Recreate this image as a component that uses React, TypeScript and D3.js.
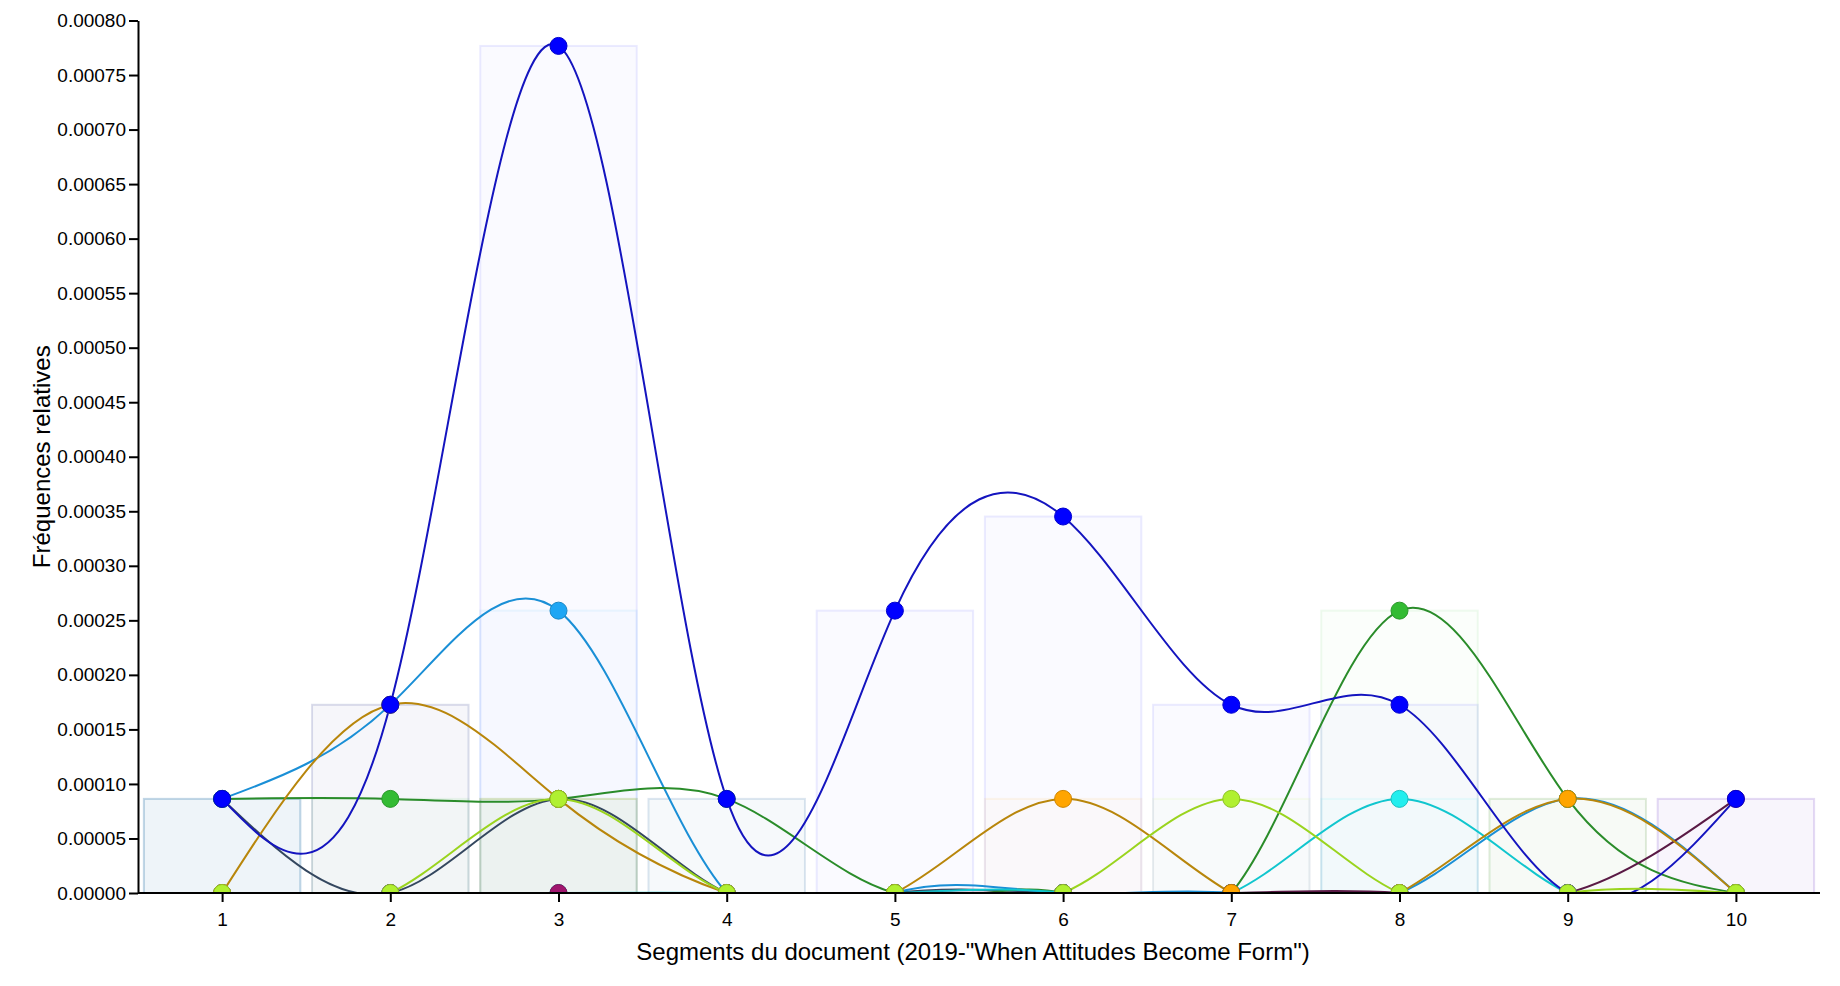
import React, { useEffect, useRef } from "react";
import * as d3 from "d3";

// segments of the document on the x axis
const segments = [1, 2, 3, 4, 5, 6, 7, 8, 9, 10];

// relative frequencies per term, one array per series
const darkslateValues = [0.0000863, 0, 0.0000863, 0, 0, 0, 0, 0, 0, 0];
const skyValues = [0.0000863, 0.0001726, 0.0002589, 0, 0, 0, 0, 0, 0.0000863, 0];
const greenValues = [0.0000863, 0.0000863, 0.0000863, 0.0000863, 0, 0, 0, 0.0002589, 0.0000863, 0];
const cyanValues = [0, 0, 0, 0, 0, 0, 0, 0.0000863, 0, 0];
const maroonValues = [0, 0, 0, 0, 0, 0, 0, 0, 0, 0.0000863];
const orangeValues = [0, 0.0001726, 0.0000863, 0, 0, 0.0000863, 0, 0, 0.0000863, 0];
const blueValues = [0.0000863, 0.0001726, 0.0007767, 0.0000863, 0.0002589, 0.0003452, 0.0001726, 0.0001726, 0, 0.0000863];
const limeValues = [0, 0, 0.0000863, 0, 0, 0, 0.0000863, 0, 0, 0];

const yTicks = [
  0, 0.00005, 0.0001, 0.00015, 0.0002, 0.00025, 0.0003, 0.00035, 0.0004,
  0.00045, 0.0005, 0.00055, 0.0006, 0.00065, 0.0007, 0.00075, 0.0008,
];

const xTitle = 'Segments du document (2019-"When Attitudes Become Form")';
const yTitle = "Fréquences relatives";

const series = [
  { values: darkslateValues, dot: "#4a6384", line: "#34475f" },
  { values: skyValues, dot: "#1ea6f4", line: "#1a8fd6" },
  { values: greenValues, dot: "#33bb33", line: "#2a8c2a" },
  { values: cyanValues, dot: "#22eeee", line: "#11c6ce" },
  { values: maroonValues, dot: "#a0166e", line: "#5a1a45" },
  { values: orangeValues, dot: "#ffa500", line: "#b8860b" },
  { values: blueValues, dot: "#0000ff", line: "#1414bf" },
  { values: limeValues, dot: "#b0f030", line: "#9ad41e" },
];

const W = 1840;
const H = 986;
const left = 138;
const right = 1820;
const top = 20.5;
const bottom = 893;
const FONT = "'Liberation Sans', Arial, sans-serif";

export default function App() {
  const ref = useRef<SVGSVGElement | null>(null);

  useEffect(() => {
    if (!ref.current) return;
    const svg = d3.select(ref.current);
    svg.selectAll("*").remove();

    const x = d3
      .scaleBand<number>()
      .domain(segments)
      .range([left, right])
      .paddingInner(0.07)
      .paddingOuter(0.035);
    const y = d3.scaleLinear([0, 0.0008], [bottom, top]);
    const cx = (s: number) => (x(s) as number) + x.bandwidth() / 2;

    // everything inside the plot is cut at the x axis
    svg
      .append("defs")
      .append("clipPath")
      .attr("id", "plot-clip")
      .append("rect")
      .attr("x", left)
      .attr("y", 0)
      .attr("width", right - left)
      .attr("height", bottom);

    const plot = svg.append("g").attr("clip-path", "url(#plot-clip)");

    // faint bars behind the curves
    series.forEach((s) => {
      plot
        .append("g")
        .selectAll("rect")
        .data(s.values.map((v, i) => ({ seg: segments[i], v })))
        .enter()
        .filter((d) => d.v > 0)
        .append("rect")
        .attr("x", (d) => x(d.seg) as number)
        .attr("width", x.bandwidth())
        .attr("y", (d) => y(d.v))
        .attr("height", (d) => bottom - y(d.v) + 2)
        .attr("fill", s.dot)
        .attr("fill-opacity", 0.018)
        .attr("stroke", s.dot)
        .attr("stroke-opacity", 0.08)
        .attr("stroke-width", 2);
    });

    // natural spline per series, then its dots
    const line = d3
      .line<number>()
      .x((_, i) => cx(segments[i]))
      .y((d) => y(d))
      .curve(d3.curveNatural);

    series.forEach((s) => {
      plot
        .append("path")
        .attr("d", line(s.values))
        .attr("fill", "none")
        .attr("stroke", s.line)
        .attr("stroke-width", 2);
    });

    series.forEach((s) => {
      plot
        .append("g")
        .selectAll("circle")
        .data(s.values)
        .enter()
        .append("circle")
        .attr("cx", (_, i) => cx(segments[i]))
        .attr("cy", (d) => y(d))
        .attr("r", 8.5)
        .attr("fill", s.dot)
        .attr("stroke", d3.color(s.dot)!.darker(0.6).formatHex())
        .attr("stroke-width", 1);
    });

    // axes
    const yAxis = d3
      .axisLeft(y)
      .tickValues(yTicks)
      .tickFormat(d3.format(".5f"))
      .tickSize(9)
      .tickSizeOuter(0)
      .tickPadding(3);
    const gy = svg.append("g").attr("transform", `translate(${left},0)`).call(yAxis);

    const xAxis = d3
      .axisBottom(d3.scalePoint<number>().domain(segments).range([cx(1), cx(10)]))
      .tickSize(9)
      .tickSizeOuter(0)
      .tickPadding(11);
    const gx = svg.append("g").attr("transform", `translate(0,${bottom})`).call(xAxis);
    gx.select(".domain").attr("d", `M${left},0H${right}`);

    [gx, gy].forEach((g) => {
      g.selectAll("path,line").attr("stroke", "#000").attr("stroke-width", 2);
      g.selectAll("text").attr("font-family", FONT).attr("font-size", 19).attr("fill", "#000");
    });

    svg
      .append("text")
      .attr("x", (left + right) / 2 - 6)
      .attr("y", 960)
      .attr("text-anchor", "middle")
      .attr("font-family", FONT)
      .attr("font-size", 24)
      .text(xTitle);

    svg
      .append("text")
      .attr("transform", `translate(50,${(top + bottom) / 2}) rotate(-90)`)
      .attr("text-anchor", "middle")
      .attr("font-family", FONT)
      .attr("font-size", 24)
      .text(yTitle);
  }, []);

  return (
    <svg
      ref={ref}
      width={W}
      height={H}
      style={{ position: "absolute", left: 0, top: 0, background: "#fff" }}
    />
  );
}
